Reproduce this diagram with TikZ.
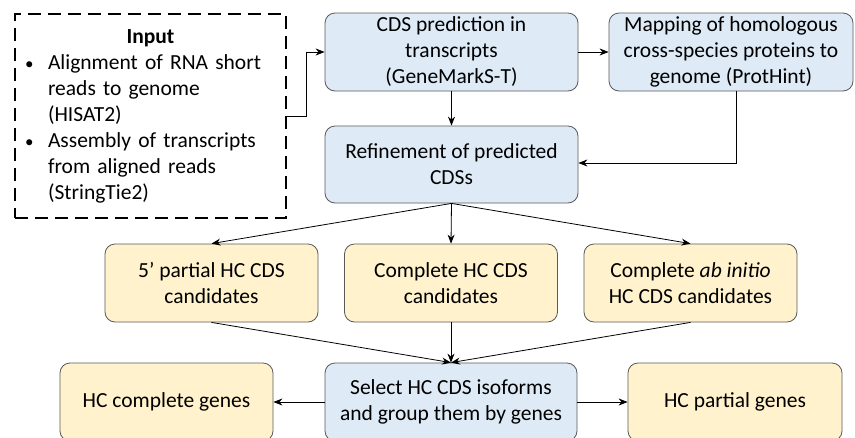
\documentclass[tikz,border=0pt]{standalone}
\usepackage{fontspec}
\setmainfont{Carlito}
\usetikzlibrary{arrows.meta}
\definecolor{boxblue}{HTML}{DEEBF7}
\definecolor{boxyellow}{HTML}{FFF2CC}
\definecolor{boxline}{HTML}{595959}

\begin{document}
\begin{tikzpicture}[x = 1pt, y = -1pt,
    stage/.style = {draw = boxline, line width = .8pt, rounded corners = 10pt, minimum height = 78pt, align = center, inner sep = 2pt, font = \fontsize{21.5}{26}\selectfont},
    bluestage/.style = {stage, fill = boxblue, minimum width = 253pt},
    yellowstage/.style = {stage, fill = boxyellow, minimum width = 213pt},
    flow/.style = {-{Stealth[length = 9pt, width = 7pt]}, line width = .8pt}]

    \clip (0,0) rectangle (855,437);

    \node [draw, line width = 2pt, dash pattern = on 13pt off 7pt, minimum width = 271pt, minimum height = 204pt, text width = 245pt, align = left, inner sep = 0pt, font = \fontsize{21.5}{26}\selectfont] (input) at (150.5,116) {%
      \makebox[245pt]{\textbf{Input}}\\
      \makebox[20pt][l]{\kern-3pt{\fontsize{17}{26}\selectfont\textbullet}}Alignment of RNA short\\
      \hspace*{20pt}reads to genome\\
      \hspace*{20pt}(HISAT2)\\
      \makebox[20pt][l]{\kern-3pt{\fontsize{17}{26}\selectfont\textbullet}}Assembly of transcripts\\
      \hspace*{20pt}from aligned reads\\
      \hspace*{20pt}(StringTie2)};

    \node [bluestage] (cds) at (451.5,52) {CDS prediction in\\transcripts\\(GeneMarkS-T)};
    \node [bluestage, minimum width = 244pt] (prothint) at (731,52) {Mapping of homologous\\cross-species proteins to\\genome (ProtHint)};
    \node [bluestage, minimum height = 77pt] (refine) at (451.5,164.5) {Refinement of predicted\\CDSs};

    \node [yellowstage] (partial) at (211.5,283) {5’ partial HC CDS\\candidates};
    \node [yellowstage] (complete) at (451,283) {Complete HC CDS\\candidates};
    \node [yellowstage] (abinitio) at (690.5,283) {Complete \textit{ab initio}\\HC CDS candidates};

    \node [bluestage, minimum width = 252pt] (select) at (451,402) {Select HC CDS isoforms\\and group them by genes};
    \node [yellowstage] (hccomplete) at (166.5,402) {HC complete genes};
    \node [yellowstage, minimum width = 214pt] (hcpartial) at (735,402) {HC partial genes};

    \draw [flow] (input.east) -- ++(19,0) |- (cds.west);
    \draw [flow] (cds.east) -- (prothint.west);
    \draw [flow] (cds.south) -- (refine.north);
    \draw [flow] ([xshift = 5pt]prothint.south) |- ([yshift = 1.5pt]refine.east);
    \foreach \n in {partial, complete, abinitio} {
      \draw [flow] (refine.south) -- (\n.north);
      \draw [flow] (\n.south) -- (select.north);
    }
    \draw [flow] (select.west) -- (hccomplete.east);
    \draw [flow] (select.east) -- (hcpartial.west);
\end{tikzpicture}
\end{document}
